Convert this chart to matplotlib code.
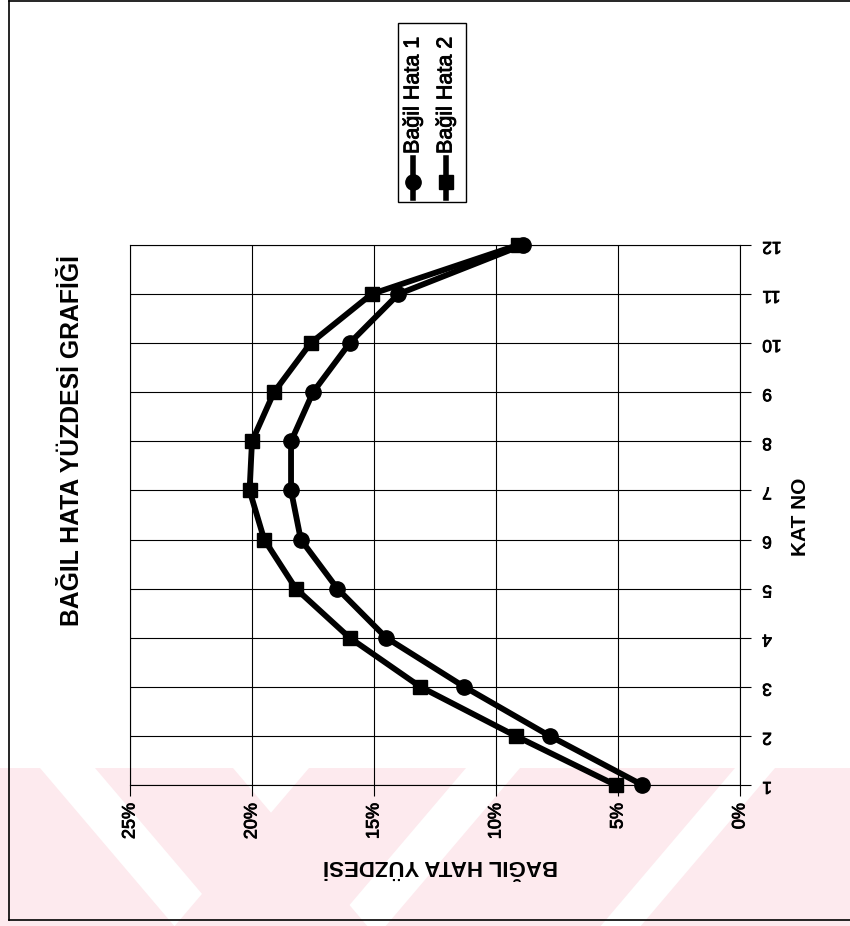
import numpy as np
import matplotlib
matplotlib.use("Agg")
import matplotlib.pyplot as plt
import matplotlib.patheffects as pe
from matplotlib.patches import Polygon, Rectangle
from matplotlib.lines import Line2D

plt.rcParams["font.family"] = ["Liberation Sans", "DejaVu Sans"]

# chart data (page is rotated: KAT NO runs upward, percent runs leftward)
kat_no = np.arange(1, 13)
bagil_hata_1 = [4.0, 7.8, 11.3, 14.5, 16.5, 18.0, 18.4, 18.4, 17.5, 16.0, 14.0, 8.9]
bagil_hata_2 = [5.1, 9.2, 13.1, 16.0, 18.2, 19.5, 20.1, 20.0, 19.1, 17.6, 15.1, 9.1]
pct_ticks = [0, 5, 10, 15, 20, 25]
pct_labels = [f"{v}%" for v in pct_ticks]
series_names = ["Bağil Hata 1", "Bağil Hata 2"]

W, H = 850, 926
heavy = [pe.withStroke(linewidth=0.6, foreground="black")]


def fx(px):
    return px / W


def fy(py):
    return 1 - py / H


fig = plt.figure(figsize=(W / 100, H / 100), dpi=100)

# faint pink watermark band at the bottom of the scanned page
band_top, band_bot = 768, 926
h = band_bot - band_top
s = 0.85
for a, b in [(-200, 40), (95, 233)]:
    pts = [(a, band_top), (b, band_top), (b + s * h, band_bot), (a + s * h, band_bot)]
    fig.patches.append(Polygon([(fx(x), fy(y)) for x, y in pts], closed=True,
                               transform=fig.transFigure, facecolor="#fdeaee",
                               edgecolor="none", zorder=-5))
for a, b in [(309, 466), (520, 735), (775, 1000)]:
    pts = [(a, band_top), (b, band_top), (b - s * h, band_bot), (a - s * h, band_bot)]
    fig.patches.append(Polygon([(fx(x), fy(y)) for x, y in pts], closed=True,
                               transform=fig.transFigure, facecolor="#fdeaee",
                               edgecolor="none", zorder=-5))

# page frame
for x0, y0, x1, y1 in [(9, 1, 9, 920), (9, 1, 850, 1), (9, 920, 850, 920)]:
    fig.add_artist(Line2D([fx(x0), fx(x1)], [fy(y0), fy(y1)], color="black", lw=1.2))

ax = fig.add_axes([fx(130), fy(785), fx(740) - fx(130), fy(245) - fy(785)])
ax.set_facecolor("none")

ax.plot(bagil_hata_1, kat_no, color="black", lw=4.2, marker="o", ms=11, clip_on=False, zorder=3)
ax.plot(bagil_hata_2, kat_no, color="black", lw=4.2, marker="s", ms=10, clip_on=False, zorder=3)

ax.set_xlim(25, 0)
ax.set_ylim(1, 12)
ax.set_xticks(pct_ticks)
ax.set_xticklabels(pct_labels)
ax.set_yticks(kat_no)
ax.set_yticklabels([str(k) for k in kat_no])
ax.yaxis.tick_right()
ax.grid(True, color="black", lw=0.8)
ax.set_axisbelow(True)
for sp in ax.spines.values():
    sp.set_linewidth(0.8)
ax.tick_params(axis="x", direction="out", length=8, width=0.8, labelrotation=90,
               labelsize=13, pad=5)
ax.tick_params(axis="y", direction="out", length=8, width=0.8, labelrotation=180,
               labelsize=12.5, pad=8)
for lbl in ax.get_xticklabels() + ax.get_yticklabels():
    lbl.set_path_effects(heavy)

# title and axis titles (rotated with the page)
fig.text(fx(72), fy(440), "BAĞIL HATA YÜZDESİ GRAFİĞİ", rotation=90, fontsize=17.8,
         fontweight="bold", ha="center", va="center")
fig.text(fx(801), fy(517), "KAT NO", rotation=90, fontsize=15,
         fontweight="bold", ha="center", va="center")
fig.text(fx(440), fy(866), "BAĞIL HATA YÜZDESİ", rotation=180, fontsize=16,
         fontweight="bold", ha="center", va="center")

# legend box, drawn by hand since it is rotated
fig.add_artist(Rectangle((fx(398), fy(202)), fx(466) - fx(398), fy(23) - fy(202),
                         transform=fig.transFigure, facecolor="white",
                         edgecolor="black", lw=1))
for xc, mk, ms, name in [(413, "o", 11, series_names[0]), (446, "s", 10, series_names[1])]:
    fig.add_artist(Line2D([fx(xc), fx(xc)], [fy(198), fy(158)], color="black", lw=4))
    fig.add_artist(Line2D([fx(xc)], [fy(182)], color="black", marker=mk, ms=ms))
    t = fig.text(fx(xc), fy(154), name, rotation=90, fontsize=15.5,
                 ha="center", va="bottom")
    t.set_path_effects(heavy)

fig.savefig("out.png", dpi=100, facecolor="white")
